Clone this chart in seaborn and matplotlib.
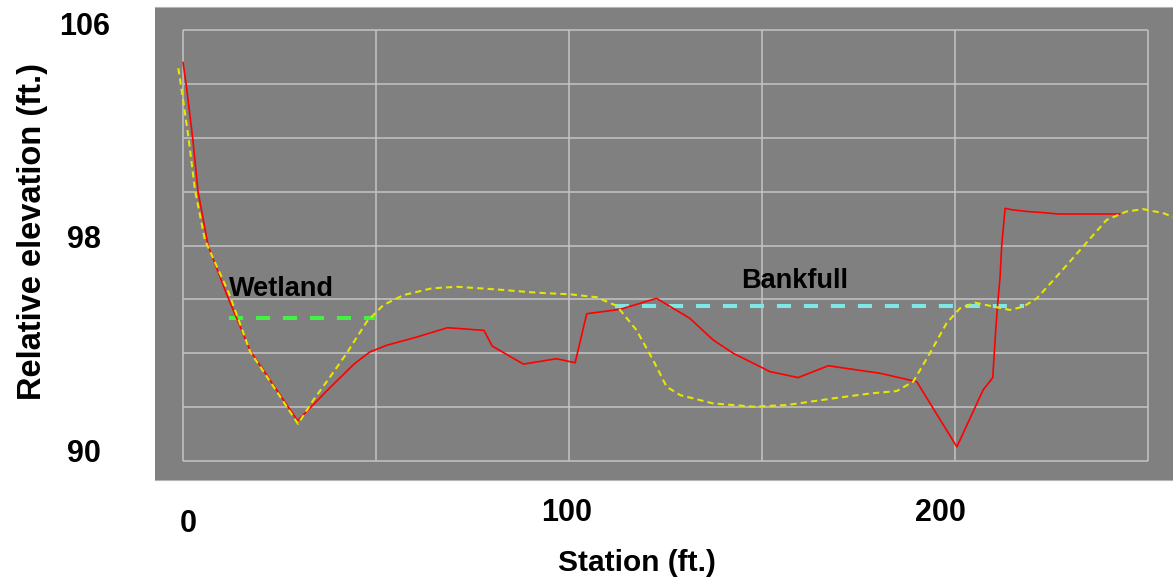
import matplotlib
matplotlib.use('Agg')
import matplotlib.pyplot as plt
import matplotlib.transforms as mtransforms
import seaborn as sns

# surveyed cross-section (red) and smoothed profile (yellow dashed)
red_station = [0, 0.8, 2.5, 3.9, 6.5, 11.3, 17.4, 29.7, 33.8, 37.2, 44.3, 48.4, 52.8, 60.5, 68.5,
               73.5, 78.0, 80.1, 88.2, 96.8, 101.6, 104.6, 113.2, 122.7, 127.0, 131.3, 137.4, 142.6,
               152.1, 159.4, 167.2, 171.9, 180.6, 190.1, 200.5, 207.3, 209.8, 210.5, 211.0, 211.7,
               212.1, 213.0, 215.1, 219.0, 222.9, 226.8, 242.7]
red_elev = [104.8, 104.0, 102.0, 100.0, 98.0, 96.2, 94.1, 91.5, 92.1, 92.6, 93.6, 94.05, 94.3, 94.6,
            94.95, 94.9, 94.85, 94.27, 93.6, 93.8, 93.65, 95.47, 95.63, 96.04, 95.67, 95.3, 94.49,
            94.0, 93.32, 93.1, 93.54, 93.44, 93.26, 92.95, 90.53, 92.64, 93.1, 94.7, 95.7, 96.84,
            97.96, 99.38, 99.32, 99.26, 99.22, 99.17, 99.17]

yel_station = [-1.2, -0.35, 1.4, 3.1, 5.7, 11.9, 17.4, 24.0, 29.8, 33.8, 38.0, 42.4, 47.6, 51.9,
               57.1, 64.4, 70.9, 81.3, 91.6, 100.3, 107.2, 112.4, 117.5, 121.8, 125.3, 128.8, 137.4,
               147.8, 156.4, 168.5, 178.0, 184.9, 189.2, 193.5, 197.8, 201.3, 205.2, 210.8, 214.2,
               217.7, 221.2, 226.3, 233.2, 239.3, 244.4, 248.8, 254.0, 256.5]
yel_elev = [104.58, 103.77, 102.04, 100.06, 98.2, 96.23, 94.06, 92.65, 91.38, 92.27, 93.1, 94.0,
            95.17, 95.79, 96.16, 96.41, 96.47, 96.37, 96.25, 96.19, 96.08, 95.76, 94.86, 93.75,
            92.76, 92.45, 92.14, 92.02, 92.08, 92.33, 92.51, 92.6, 92.95, 94.0, 95.11, 95.67,
            95.88, 95.71, 95.61, 95.73, 96.04, 96.84, 97.96, 98.95, 99.26, 99.35, 99.2, 99.06]

wetland_x = [12, 50]
wetland_y = [95.3, 95.3]
bankfull_x = [112, 218]
bankfull_y = [95.75, 95.75]

x_ticks = [0, 100, 200]
y_ticks = [90, 98, 106]
x_grid = [0, 50, 100, 150, 200, 250]
y_grid = [90, 92, 94, 96, 98, 100, 102, 104, 106]

sns.set_style('white')
plt.rcParams['font.family'] = ['Liberation Sans', 'DejaVu Sans']
plt.rcParams['font.weight'] = 'bold'
plt.rcParams['text.color'] = 'black'
plt.rcParams['axes.labelcolor'] = 'black'
plt.rcParams['xtick.color'] = 'black'
plt.rcParams['ytick.color'] = 'black'

fig = plt.figure(figsize=(11.73, 5.86), dpi=100)
ax = fig.add_axes([155 / 1173, 106 / 586, 1018 / 1173, 473 / 586])
ax.set_facecolor('#808080')
ax.set_xlim(-7.25, 256.5)
ax.set_ylim(89.3, 106.85)

# grid only covers the inner plot area
ax.vlines(x_grid, y_grid[0], y_grid[-1], color='#c4c4c4', lw=1.1, zorder=1)
ax.hlines(y_grid, x_grid[0], x_grid[-1], color='#c4c4c4', lw=1.1, zorder=1)

sns.lineplot(x=red_station, y=red_elev, ax=ax, color='#ff0000', lw=1.2,
             sort=False, estimator=None, zorder=3)
sns.lineplot(x=wetland_x, y=wetland_y, ax=ax, color='#44f044', lw=2.9,
             linestyle=(0, (3.5, 3.2)), sort=False, estimator=None, zorder=2)
sns.lineplot(x=bankfull_x, y=bankfull_y, ax=ax, color='#80e6e6', lw=2.9,
             linestyle=(0, (3.5, 3.2)), sort=False, estimator=None, zorder=2)
sns.lineplot(x=yel_station, y=yel_elev, ax=ax, color='#e6e600', lw=1.5,
             linestyle=(0, (3, 2)), sort=False, estimator=None, zorder=4)

ax.text(11.9, 96.14, 'Wetland', fontsize=19.5, fontweight='bold', color='black',
        va='baseline', zorder=5)
ax.text(144.6, 96.41, 'Bankfull', fontsize=19.5, fontweight='bold', color='black',
        va='baseline', zorder=5)

for s in ['left', 'right']:
    ax.spines[s].set_visible(False)
for s in ['top', 'bottom']:
    ax.spines[s].set_color('#b4b4b4')
    ax.spines[s].set_linewidth(0.8)

ax.set_xticks(x_ticks)
ax.set_yticks(y_ticks)
ax.set_xticklabels([str(v) for v in x_ticks])
ax.set_yticklabels([str(v) for v in y_ticks])
ax.tick_params(axis='x', length=0, labelsize=22, pad=23.8, labelcolor='black')
ax.tick_params(axis='y', length=0, labelsize=22, pad=51, labelcolor='black')

# the labels sit a bit off their ticks in the original
x_off = [(5, -11), (-2, 0), (-14, 0)]
for lab, (dx, dy) in zip(ax.get_xticklabels(), x_off):
    lab.set_va('center')
    lab.set_transform(lab.get_transform() + mtransforms.ScaledTranslation(dx / 100, dy / 100, fig.dpi_scale_trans))
y_off = [(0, 11), (0, 9), (0, 6)]
for lab, (dx, dy) in zip(ax.get_yticklabels(), y_off):
    lab.set_ha('center')
    lab.set_transform(lab.get_transform() + mtransforms.ScaledTranslation(dx / 100, dy / 100, fig.dpi_scale_trans))

ax.set_xlabel('Station (ft.)', fontsize=21.5, fontweight='bold', color='black')
ax.xaxis.set_label_coords(0.4735, -0.1755)
ax.xaxis.label.set_va('center')
ax.set_ylabel('Relative elevation (ft.)', fontsize=23.5, fontweight='bold', color='black')
ax.yaxis.set_label_coords(-0.1208, 0.526)
ax.yaxis.label.set_va('center')

fig.savefig('out.png', dpi=100, facecolor='white')
